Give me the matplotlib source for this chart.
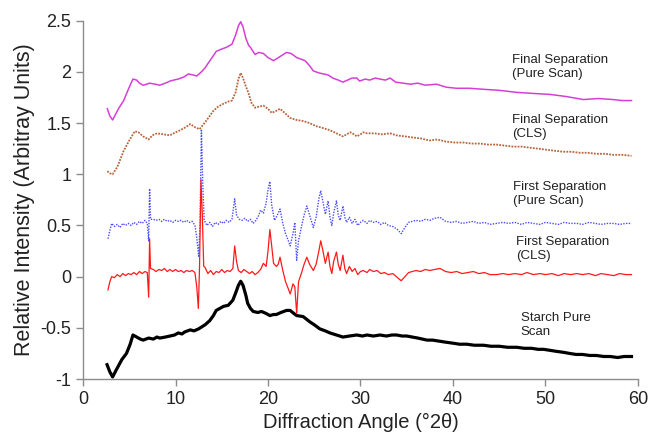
import matplotlib
matplotlib.use("Agg")
import matplotlib.pyplot as plt

plt.rcParams['font.family'] = ['Liberation Sans', 'DejaVu Sans']

# starch pure scan
starch_x = [2.6, 2.9, 3.2, 3.6, 4.2, 4.7, 5.1, 5.4, 5.8, 6.2, 6.5, 7.1, 7.6, 8.0, 8.3,
            8.9, 9.4, 9.9, 10.3, 10.7, 11.0, 11.6, 12.0, 12.5, 13.2, 13.7, 14.1, 14.4,
            14.8, 15.2, 15.7, 16.2, 16.5, 16.8, 17.05, 17.3, 17.6, 17.8, 18.1, 18.4,
            18.9, 19.3, 19.8, 20.2, 20.6, 20.9, 21.4, 22.0, 22.4, 22.8, 23.1, 23.8,
            24.5, 25.0, 25.6, 26.2, 26.7, 27.4, 28.1, 28.8, 29.6, 30.2, 30.7, 31.4,
            32.1, 32.8, 33.4, 33.9, 34.5, 35.0, 35.6, 36.2, 36.7, 37.2, 37.8, 38.5,
            39.2, 40.0, 40.7, 41.5, 42.3, 43.3, 44.1, 45.0, 45.9, 46.9, 47.7, 48.5,
            49.2, 49.8, 50.5, 51.2, 52.0, 52.6, 53.3, 54.0, 54.8, 55.5, 56.3, 57.0,
            57.8, 58.5, 59.3]
starch_y = [-0.86, -0.93, -0.98, -0.91, -0.81, -0.75, -0.66, -0.57, -0.59, -0.61, -0.62,
            -0.60, -0.61, -0.59, -0.60, -0.59, -0.58, -0.57, -0.55, -0.56, -0.54, -0.52,
            -0.53, -0.51, -0.47, -0.43, -0.38, -0.33, -0.31, -0.29, -0.28, -0.23, -0.16,
            -0.085, -0.045, -0.085, -0.18, -0.26, -0.31, -0.34, -0.35, -0.34, -0.36,
            -0.38, -0.37, -0.37, -0.35, -0.33, -0.33, -0.36, -0.38, -0.39, -0.44, -0.47,
            -0.51, -0.53, -0.55, -0.57, -0.59, -0.58, -0.57, -0.58, -0.57, -0.58, -0.57,
            -0.58, -0.57, -0.57, -0.58, -0.58, -0.59, -0.60, -0.61, -0.62, -0.62, -0.63,
            -0.64, -0.65, -0.66, -0.66, -0.67, -0.67, -0.68, -0.68, -0.69, -0.69, -0.70,
            -0.70, -0.71, -0.71, -0.72, -0.73, -0.74, -0.75, -0.76, -0.76, -0.77, -0.77,
            -0.78, -0.78, -0.79, -0.78, -0.78]

# first separation, CLS
first_cls_x = [2.7, 2.9, 3.1, 3.4, 3.7, 4.0, 4.3, 4.6, 4.9, 5.2, 5.5, 5.8, 6.1, 6.4, 6.7,
               6.95, 7.1, 7.2, 7.3, 7.6, 7.9, 8.2, 8.5, 8.8, 9.1, 9.4, 9.7, 10.0, 10.3,
               10.6, 10.9, 11.2, 11.5, 11.8, 12.1, 12.3, 12.47, 12.6, 12.75, 12.9, 13.05,
               13.2, 13.5, 13.8, 14.1, 14.4, 14.7, 15.0, 15.3, 15.6, 15.9, 16.2, 16.4,
               16.6, 16.8, 17.1, 17.4, 17.7, 18.0, 18.3, 18.6, 18.9, 19.2, 19.5, 19.8,
               20.0, 20.2, 20.4, 20.6, 20.9, 21.1, 21.3, 21.6, 21.9, 22.2, 22.4, 22.7,
               22.9, 23.1, 23.3, 23.6, 23.9, 24.2, 24.5, 24.9, 25.2, 25.5, 25.7, 25.9,
               26.2, 26.5, 26.7, 26.9, 27.1, 27.4, 27.6, 27.8, 28.1, 28.3, 28.5, 28.8,
               29.1, 29.4, 29.7, 30.0, 30.3, 30.7, 31.0, 31.4, 31.8, 32.2, 32.6, 33.0,
               33.5, 34.0, 34.4, 34.8, 35.2, 35.6, 36.0, 36.5, 37.0, 37.5, 38.0, 38.6,
               39.2, 39.8, 40.4, 41.0, 41.6, 42.2, 42.8, 43.4, 44.0, 44.7, 45.4, 46.0,
               46.7, 47.4, 48.0, 48.7, 49.4, 50.0, 50.7, 51.4, 52.0, 52.7, 53.4, 54.0,
               54.7, 55.4, 56.0, 56.7, 57.4, 58.0, 58.7, 59.3]
first_cls_y = [-0.13, -0.05, 0.0, -0.01, 0.02, 0.0, 0.03, 0.01, 0.03, 0.02, 0.04, 0.02,
               0.05, 0.03, 0.05, 0.04, -0.2, 0.37, 0.08, 0.07, 0.05, 0.07, 0.06, 0.08,
               0.05, 0.07, 0.05, 0.07, 0.05, 0.06, 0.04, 0.06, 0.05, 0.06, 0.04, -0.1,
               -0.31, 0.1, 0.95, 0.6, 0.1, 0.09, 0.03, 0.06, 0.02, 0.05, 0.04, 0.07, 0.04,
               0.06, 0.05, 0.08, 0.30, 0.15, 0.06, 0.04, 0.07, 0.05, 0.03, 0.05, 0.02,
               0.04, 0.07, 0.13, 0.10, 0.25, 0.46, 0.30, 0.13, 0.10, 0.12, 0.19, 0.06,
               -0.05, -0.12, -0.17, -0.07, -0.10, -0.36, -0.05, 0.03, 0.12, 0.19, 0.12,
               0.06, 0.12, 0.25, 0.35, 0.27, 0.13, 0.24, 0.10, 0.03, 0.15, 0.24, 0.12,
               0.06, 0.21, 0.08, 0.03, 0.10, 0.05, 0.08, 0.02, 0.05, 0.06, 0.04, 0.07,
               0.05, 0.06, 0.03, 0.04, 0.02, 0.03, -0.01, -0.04, 0.0, 0.04, 0.05, 0.06,
               0.05, 0.07, 0.06, 0.07, 0.08, 0.05, 0.04, 0.05, 0.03, 0.04, 0.05, 0.03,
               0.04, 0.02, 0.02, 0.03, 0.02, 0.03, 0.02, 0.04, 0.02, 0.03, 0.02, 0.03,
               0.01, 0.03, 0.02, 0.03, 0.02, 0.03, 0.01, 0.03, 0.02, 0.01, 0.03, 0.02,
               0.02]

# first separation, pure scan
first_pure_x = [2.7, 2.9, 3.1, 3.4, 3.7, 4.0, 4.3, 4.6, 4.9, 5.2, 5.5, 5.8, 6.1, 6.4,
                6.7, 6.95, 7.1, 7.2, 7.3, 7.6, 7.9, 8.2, 8.5, 8.8, 9.1, 9.4, 9.7, 10.0,
                10.3, 10.6, 10.9, 11.2, 11.5, 11.8, 12.1, 12.3, 12.5, 12.65, 12.8, 12.95,
                13.1, 13.4, 13.7, 14.0, 14.3, 14.6, 14.9, 15.2, 15.5, 15.8, 16.1, 16.4,
                16.6, 16.9, 17.2, 17.5, 17.8, 18.1, 18.4, 18.7, 19.0, 19.2, 19.5, 19.8,
                20.0, 20.2, 20.4, 20.7, 21.0, 21.3, 21.6, 21.9, 22.2, 22.4, 22.7, 22.9,
                23.1, 23.3, 23.6, 23.9, 24.2, 24.5, 24.9, 25.2, 25.5, 25.7, 25.9, 26.2,
                26.5, 26.7, 26.9, 27.1, 27.4, 27.6, 27.8, 28.1, 28.3, 28.5, 28.8, 29.1,
                29.4, 29.7, 30.0, 30.3, 30.7, 31.0, 31.4, 31.8, 32.2, 32.6, 33.0, 33.5,
                34.0, 34.4, 34.8, 35.2, 35.6, 36.0, 36.5, 37.0, 37.5, 38.0, 38.6, 39.2,
                39.8, 40.4, 41.0, 41.6, 42.2, 42.8, 43.4, 44.0, 44.7, 45.4, 46.0, 46.7,
                47.4, 48.0, 48.7, 49.4, 50.0, 50.7, 51.4, 52.0, 52.7, 53.4, 54.0, 54.7,
                55.4, 56.0, 56.7, 57.4, 58.0, 58.7, 59.3]
first_pure_y = [0.37, 0.45, 0.52, 0.49, 0.51, 0.48, 0.52, 0.50, 0.52, 0.50, 0.53, 0.51,
                0.54, 0.52, 0.55, 0.52, 0.35, 0.86, 0.56, 0.56, 0.55, 0.56, 0.54, 0.56,
                0.54, 0.55, 0.53, 0.55, 0.54, 0.55, 0.53, 0.55, 0.53, 0.54, 0.50, 0.38,
                0.20, 0.50, 1.44, 0.90, 0.55, 0.50, 0.53, 0.49, 0.53, 0.51, 0.54, 0.52,
                0.55, 0.53, 0.56, 0.76, 0.60, 0.56, 0.55, 0.57, 0.54, 0.56, 0.52, 0.55,
                0.60, 0.65, 0.62, 0.72, 0.85, 0.93, 0.70, 0.55, 0.60, 0.66, 0.52, 0.42,
                0.35, 0.30, 0.42, 0.53, 0.16, 0.35, 0.48, 0.60, 0.69, 0.60, 0.48, 0.58,
                0.76, 0.84, 0.75, 0.61, 0.74, 0.58, 0.50, 0.62, 0.74, 0.60, 0.55, 0.69,
                0.58, 0.53, 0.58, 0.52, 0.56, 0.50, 0.53, 0.55, 0.52, 0.55, 0.53, 0.54,
                0.51, 0.53, 0.50, 0.49, 0.46, 0.42, 0.48, 0.53, 0.54, 0.55, 0.54, 0.56,
                0.55, 0.57, 0.58, 0.54, 0.53, 0.54, 0.52, 0.53, 0.54, 0.52, 0.53, 0.51,
                0.52, 0.53, 0.52, 0.53, 0.51, 0.53, 0.52, 0.51, 0.53, 0.52, 0.51, 0.53,
                0.52, 0.52, 0.51, 0.53, 0.52, 0.51, 0.52, 0.52, 0.51, 0.52, 0.52]

# final separation, CLS
final_cls_x = [2.63, 2.9, 3.2, 3.7, 4.4, 5.0, 5.6, 6.0, 6.5, 7.1, 7.5, 8.0, 8.7, 9.4,
               10.0, 10.5, 11.1, 11.6, 12.1, 12.6, 13.3, 14.1, 14.6, 15.2, 15.7, 16.1,
               16.5, 16.8, 17.05, 17.3, 17.6, 17.9, 18.2, 18.6, 19.0, 19.5, 20.0, 20.4,
               20.9, 21.3, 21.8, 22.4, 23.1, 23.8, 24.5, 25.2, 26.0, 26.7, 27.4, 28.1,
               28.5, 28.9, 29.3, 29.6, 30.0, 30.3, 30.7, 31.5, 32.3, 33.2, 33.9, 34.8,
               35.6, 36.5, 37.5, 38.3, 39.2, 40.2, 41.1, 42.0, 42.9, 43.8, 44.7, 45.6,
               46.5, 47.4, 48.3, 49.2, 50.1, 51.0, 51.9, 52.8, 53.7, 54.6, 55.5, 56.4,
               57.3, 58.3, 59.3]
final_cls_y = [1.03, 1.01, 1.00, 1.07, 1.23, 1.33, 1.42, 1.41, 1.37, 1.34, 1.38, 1.40,
               1.39, 1.38, 1.41, 1.43, 1.46, 1.49, 1.46, 1.44, 1.52, 1.62, 1.66, 1.69,
               1.71, 1.72, 1.80, 1.93, 1.99, 1.94, 1.86, 1.79, 1.70, 1.65, 1.66, 1.67,
               1.64, 1.60, 1.62, 1.64, 1.60, 1.55, 1.53, 1.52, 1.50, 1.47, 1.45, 1.43,
               1.40, 1.37, 1.39, 1.41, 1.39, 1.37, 1.39, 1.41, 1.40, 1.40, 1.39, 1.40,
               1.38, 1.37, 1.36, 1.35, 1.33, 1.34, 1.32, 1.31, 1.31, 1.30, 1.30, 1.29,
               1.29, 1.28, 1.27, 1.27, 1.26, 1.25, 1.24, 1.23, 1.22, 1.22, 1.21, 1.21,
               1.20, 1.20, 1.19, 1.19, 1.18]

# final separation, pure scan
final_pure_x = [2.63, 2.9, 3.2, 3.6, 3.9, 4.4, 4.9, 5.4, 5.8, 6.1, 6.5, 6.9, 7.2, 7.8,
                8.3, 8.9, 9.4, 9.8, 10.3, 10.9, 11.4, 11.9, 12.3, 12.8, 13.2, 13.8, 14.4,
                14.9, 15.5, 16.1, 16.5, 16.8, 17.05, 17.3, 17.6, 17.9, 18.1, 18.6, 19.0,
                19.5, 20.0, 20.6, 21.3, 22.0, 22.5, 23.1, 24.0, 24.5, 24.9, 25.5, 26.0,
                26.5, 27.0, 27.6, 28.1, 28.6, 29.1, 29.6, 29.9, 30.5, 31.0, 31.6, 32.1,
                32.7, 33.2, 33.8, 34.6, 35.4, 36.2, 37.0, 38.2, 39.3, 40.4, 41.8, 43.3,
                45.0, 46.9, 48.6, 50.5, 52.2, 54.1, 55.7, 57.3, 58.3, 59.3]
final_pure_y = [1.64, 1.57, 1.53, 1.60, 1.65, 1.72, 1.83, 1.93, 1.92, 1.89, 1.87, 1.88,
                1.89, 1.88, 1.87, 1.89, 1.91, 1.92, 1.93, 1.95, 1.98, 1.97, 1.96, 2.00,
                2.04, 2.12, 2.20, 2.22, 2.24, 2.27, 2.36, 2.45, 2.49, 2.44, 2.33, 2.26,
                2.24, 2.17, 2.19, 2.18, 2.14, 2.11, 2.15, 2.19, 2.18, 2.14, 2.11, 2.06,
                2.01, 1.99, 1.98, 1.97, 1.94, 1.92, 1.90, 1.92, 1.94, 1.94, 1.91, 1.93,
                1.92, 1.94, 1.93, 1.92, 1.94, 1.90, 1.89, 1.88, 1.89, 1.87, 1.88, 1.85,
                1.84, 1.84, 1.83, 1.82, 1.80, 1.79, 1.78, 1.76, 1.73, 1.74, 1.73, 1.72,
                1.72]

labels = ["Final Separation\n(Pure Scan)", "Final Separation\n(CLS)",
          "First Separation\n(Pure Scan)", "First Separation\n(CLS)",
          "Starch Pure\nScan"]
label_x = [46.4, 46.4, 46.5, 46.8, 47.3]
label_y = [2.05, 1.46, 0.81, 0.27, -0.47]

fig = plt.figure(figsize=(6.5, 4.36), dpi=100)
ax = fig.add_axes([0.1277, 0.1307, 0.8538, 0.8218])

ax.plot(starch_x, starch_y, color='black', lw=2.3)
ax.plot(first_pure_x, first_pure_y, color='#4a4aff', lw=1.0, ls=(0, (1, 1)))
ax.plot(first_cls_x, first_cls_y, color='#ff1a1a', lw=0.9)
ax.plot(final_cls_x, final_cls_y, color='#b8643c', lw=1.3, ls=(0, (1, 0.7)))
ax.plot(final_pure_x, final_pure_y, color='#d63fd6', lw=1.1)

for txt, tx, ty in zip(labels, label_x, label_y):
    ax.text(tx, ty, txt, fontsize=9.5, color='#222222', va='center', ha='left')

ax.set_xlim(0, 60)
ax.set_ylim(-1, 2.5)
ax.set_xticks([0, 10, 20, 30, 40, 50, 60])
ax.set_yticks([-1, -0.5, 0, 0.5, 1, 1.5, 2, 2.5])
ax.set_yticklabels(['-1', '-0.5', '0', '0.5', '1', '1.5', '2', '2.5'])
ax.spines['top'].set_visible(False)
ax.spines['right'].set_visible(False)
for s in ('left', 'bottom'):
    ax.spines[s].set_color('#8c8c8c')
    ax.spines[s].set_linewidth(1.0)
ax.tick_params(direction='out', length=5, width=1, color='#8c8c8c',
               labelsize=13, labelcolor='#222222')
ax.set_xlabel('Diffraction Angle (°2θ)', fontsize=14.5, color='#222222')
ax.set_ylabel('Relative Intensity (Arbitray Units)', fontsize=15.5, color='#222222')

plt.savefig('out.png', dpi=100)
